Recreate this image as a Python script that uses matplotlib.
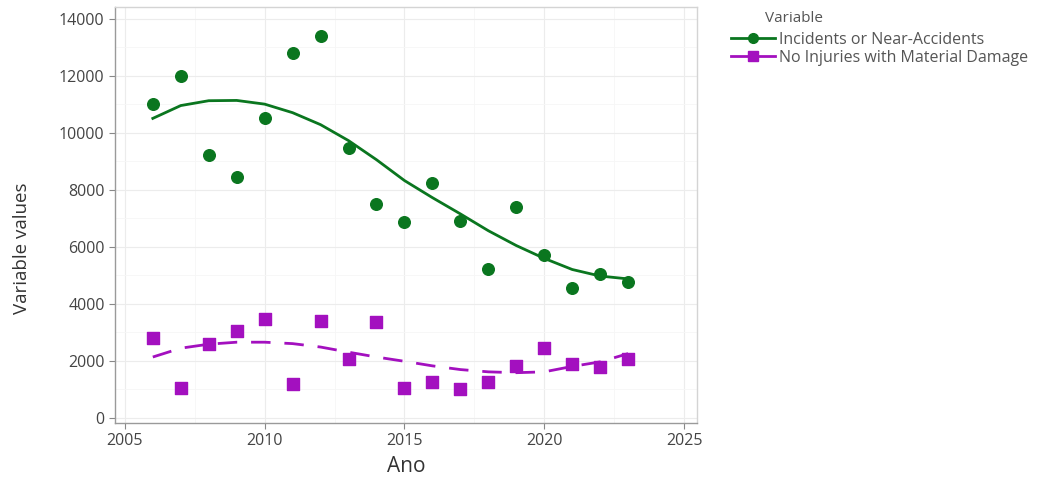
import numpy as np
import matplotlib.pyplot as plt
from matplotlib.lines import Line2D

years = np.arange(2006, 2024)

incidents = [11000, 12000, 9200, 8450, 10500, 12800, 13400, 9450, 7500,
             6850, 8250, 6900, 5200, 7400, 5700, 4550, 5050, 4750]
material = [2800, 1050, 2580, 3050, 3450, 1200, 3400, 2050, 3350,
            1050, 1250, 1000, 1250, 1800, 2450, 1900, 1780, 2050]

# smoothed trend values per year
incidents_trend = [10500, 10950, 11120, 11130, 11000, 10700, 10280, 9720, 9050,
                   8320, 7720, 7150, 6560, 6040, 5590, 5200, 4970, 4870]
material_trend = [2130, 2440, 2580, 2650, 2650, 2600, 2480, 2300, 2130,
                  1980, 1820, 1690, 1610, 1580, 1610, 1800, 1960, 2250]

labels = ['Incidents or Near-Accidents', 'No Injuries with Material Damage']
green = '#0a761f'
magenta = '#a310bf'

plt.rcParams['font.family'] = ['Open Sans', 'DejaVu Sans']

fig = plt.figure(figsize=(10.46, 4.8), dpi=100)
ax = fig.add_axes([0.110, 0.119, 0.556, 0.866])

ax.plot(years, incidents_trend, color=green, lw=2.0, zorder=2)
ax.plot(years, material_trend, color=magenta, lw=2.0, dashes=(7, 5), zorder=2)
ax.scatter(years, incidents, marker='o', s=70, color=green, zorder=3)
ax.scatter(years, material, marker='s', s=85, color=magenta, zorder=3)

ax.set_xlim(2004.65, 2025.45)
ax.set_ylim(-180, 14400)
ax.set_xticks([2005, 2010, 2015, 2020, 2025])
ax.set_yticks(np.arange(0, 14001, 2000))
ax.set_xticks(np.arange(2005, 2026, 2.5), minor=True)
ax.set_yticks(np.arange(1000, 14001, 2000), minor=True)
ax.grid(True, which='major', color='#ececec', lw=0.8)
ax.grid(True, which='minor', color='#f6f6f6', lw=0.6)
ax.set_axisbelow(True)

for side in ['top', 'right']:
    ax.spines[side].set_color('#d4d4d4')
for side in ['left', 'bottom']:
    ax.spines[side].set_color('#9a9a9a')
for sp in ax.spines.values():
    sp.set_linewidth(1.0)
ax.tick_params(which='major', length=4, color='#888888', labelsize=11.5,
               labelcolor='#444444')
ax.tick_params(which='minor', length=0)

ax.set_xlabel('Ano', fontsize=15, color='#333333', labelpad=5)
ax.set_ylabel('Variable values', fontsize=13.5, color='#333333')
ax.yaxis.set_label_coords(-0.145, 0.42)

handles = [
    Line2D([], [], color=green, lw=2, marker='o', markersize=7),
    Line2D([], [], color=magenta, lw=2, marker='s', markersize=7),
]
leg = fig.legend(handles, labels, loc='upper left',
                 bbox_to_anchor=(0.687, 0.96), frameon=False, fontsize=11.5,
                 handlelength=2.7, handletextpad=0.3,
                 labelspacing=0.1, borderpad=0.3)
for t in leg.get_texts():
    t.set_color('#555555')
fig.text(0.731, 0.962, 'Variable', fontsize=11, color='#555555',
         ha='left', va='center')

fig.savefig('out.png', dpi=100)
